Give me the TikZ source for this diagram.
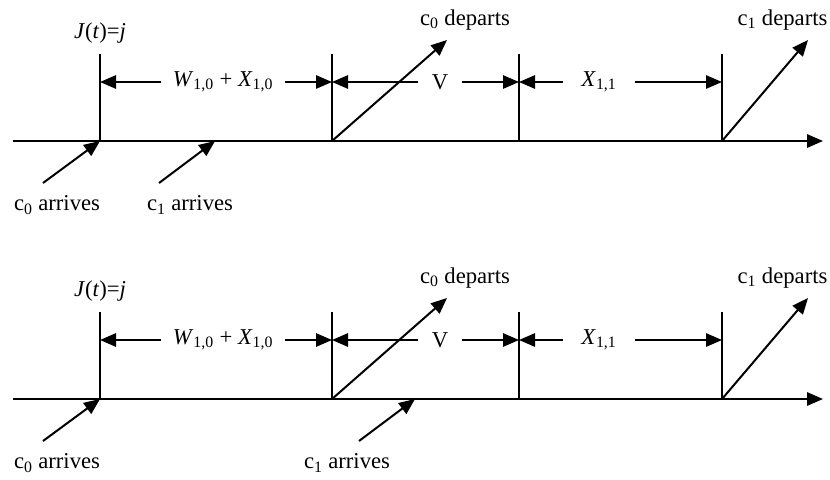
\documentclass[tikz,border=0pt]{standalone}
\usepackage{fontspec}
\setmainfont{Liberation Serif}
\usetikzlibrary{arrows.meta}
\tikzset{
  >={Triangle[length=12pt,width=10pt]},
  axis/.style={->,line width=1.5pt},
  tick/.style={line width=1.5pt},
  dim/.style={->,line width=1.3pt},
  event/.style={->,line width=1.5pt},
  lbl/.style={font=\fontsize{17}{19}\selectfont,inner sep=1pt},
}

\begin{document}
\begin{tikzpicture}[x=0.75pt,y=-0.75pt]
  \useasboundingbox (0,0) rectangle (830,479);
  % two time lines: c1 arrives early (a) or late (b)
  \foreach \r/\dy/\ca/\cl in {a/0/215/190,b/258/415/347}{
    \coordinate (\r start) at (13,141+\dy); \coordinate (\r end) at (823,141+\dy);
    \draw[axis] (\r start) -- (\r end);
    \foreach \t/\x in {1/100,2/332,3/519,4/722}{
      \coordinate (\r top\t) at (\x,54+\dy); \coordinate (\r bot\t) at (\x,141+\dy);
      \draw[tick] (\r top\t) -- (\r bot\t);
    }
    \node[lbl] (\r j) at (100,33+\dy) {\textit{J}(\textit{t})=\textit{j}};
    % intervals
    \node[lbl,inner xsep=8.5pt] (\r w) at (223,82+\dy) {\textit{W}\textsubscript{1,0} + \textit{X}\textsubscript{1,0}};
    \node[lbl,inner xsep=10.5pt] (\r v) at (440,82+\dy) {V};
    \node[lbl,inner xsep=14pt] (\r x) at (599,82+\dy) {\textit{X}\textsubscript{1,1}};
    \draw[dim] (\r w.west) -- (\r w.west -| \r top1);
    \draw[dim] (\r w.east) -- (\r w.east -| \r top2);
    \draw[dim] (\r v.west) -- (\r v.west -| \r top2);
    \draw[dim] (\r v.east) -- (\r v.east -| \r top3);
    \draw[dim] (\r x.west) -- (\r x.west -| \r top3);
    \draw[dim] (\r x.east) -- (\r x.east -| \r top4);
    % departures
    \coordinate (\r d0) at (447,40+\dy); \coordinate (\r d1) at (808,40+\dy);
    \draw[event] (\r bot2) -- (\r d0);
    \draw[event] (\r bot4) -- (\r d1);
    \node[lbl] (\r dl0) at (465,20+\dy) {c\textsubscript{0} departs};
    \node[lbl,anchor=east] (\r dl1) at (829,20+\dy) {c\textsubscript{1} departs};
    % arrivals
    \coordinate (\r a0) at (43,183+\dy); \coordinate (\r a1) at (\ca-56,183+\dy);
    \coordinate (\r c1) at (\ca,141+\dy);
    \draw[event] (\r a0) -- (\r bot1);
    \draw[event] (\r a1) -- (\r c1);
    \node[lbl] (\r al0) at (57,205+\dy) {c\textsubscript{0} arrives};
    \node[lbl] (\r al1) at (\cl,205+\dy) {c\textsubscript{1} arrives};
  }
\end{tikzpicture}
\end{document}
